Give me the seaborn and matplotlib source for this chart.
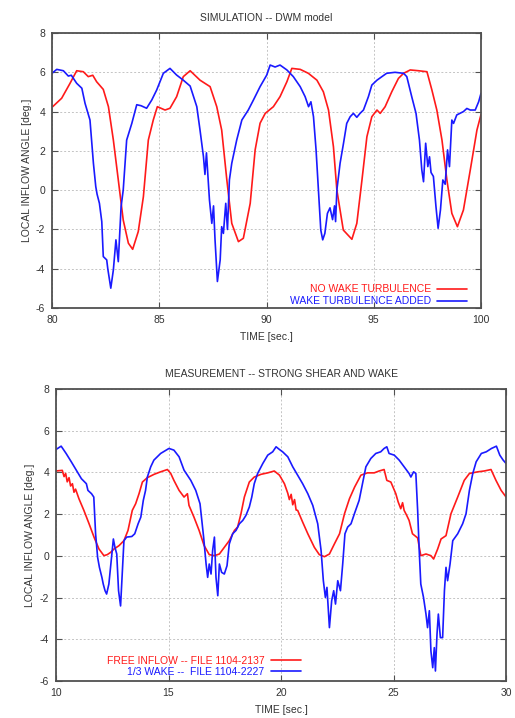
import numpy as np
import pandas as pd
import matplotlib
matplotlib.use("Agg")
import matplotlib.pyplot as plt
import seaborn as sns

# ---------------- Simulation (DWM model) ----------------
sim_t_free = [80.03, 80.45, 80.84, 81.15, 81.46, 81.69, 81.9, 82.08, 82.39, 82.63,
              82.86, 83.09, 83.32, 83.56, 83.76, 84.02, 84.26, 84.49, 84.72, 84.91,
              85.27, 85.5, 85.81, 86.12, 86.44, 86.9, 87.37, 87.68, 87.91, 88.15,
              88.38, 88.69, 88.92, 89.24, 89.47, 89.7, 89.94, 90.32, 90.63, 90.95,
              91.18, 91.57, 91.95, 92.35, 92.65, 92.89, 93.12, 93.28, 93.58, 93.98,
              94.21, 94.45, 94.68, 94.91, 95.15, 95.3, 95.53, 95.84, 96.15, 96.39,
              96.7, 97.09, 97.48, 97.71, 97.94, 98.18, 98.41, 98.64, 98.9, 99.18,
              99.5, 99.81, 100.0]
sim_y_free = [4.25, 4.68, 5.44, 6.08, 6.03, 5.78, 5.85, 5.52, 5.13, 4.25,
              2.55, 0.52, -1.52, -2.70, -3.01, -2.11, -0.33, 2.55, 3.57, 4.25,
              4.08, 4.17, 4.76, 5.78, 6.08, 5.6, 5.27, 4.25, 3.06, 0.52,
              -1.69, -2.62, -2.45, -0.67, 2.05, 3.41, 3.91, 4.25, 4.76, 5.52,
              6.2, 6.15, 5.95, 5.6, 5.01, 4.08, 2.21, 0.0, -2.03, -2.5,
              -1.69, 0.52, 2.72, 3.74, 4.08, 3.91, 4.25, 5.01, 5.69, 5.95,
              6.12, 6.08, 6.03, 5.1, 4.08, 2.55, 0.52, -1.18, -1.86, -1.01,
              1.03, 3.06, 3.85]

sim_t_wake = [80.0, 80.22, 80.53, 80.76, 80.9, 81.15, 81.39, 81.54, 81.77, 81.93,
              82.04, 82.1, 82.21, 82.32, 82.39, 82.55, 82.6, 82.74, 82.86, 82.98,
              83.09, 83.22, 83.32, 83.48, 83.72, 83.95, 84.15, 84.41, 84.65, 84.88,
              85.19, 85.5, 85.81, 86.12, 86.44, 86.75, 86.9, 87.06, 87.13, 87.2,
              87.34, 87.45, 87.53, 87.6, 87.71, 87.84, 87.91, 87.99, 88.1, 88.18,
              88.27, 88.38, 88.61, 88.85, 89.15, 89.39, 89.7, 90.01, 90.17, 90.4,
              90.63, 90.95, 91.25, 91.57, 91.8, 91.96, 92.07, 92.19, 92.31, 92.42,
              92.53, 92.62, 92.72, 92.84, 92.96, 93.08, 93.17, 93.22, 93.28, 93.43,
              93.59, 93.74, 93.9, 94.05, 94.21, 94.36, 94.52, 94.75, 94.91, 95.15,
              95.38, 95.6, 95.99, 96.39, 96.54, 96.77, 96.97, 97.13, 97.24, 97.32,
              97.42, 97.52, 97.6, 97.67, 97.78, 97.9, 98.0, 98.11, 98.22, 98.33,
              98.44, 98.53, 98.64, 98.72, 98.87, 99.18, 99.34, 99.5, 99.73, 99.89,
              100.0]
sim_y_wake = [5.95, 6.15, 6.08, 5.81, 5.85, 5.44, 5.19, 4.42, 3.57, 1.37,
              0.18, -0.2, -0.67, -1.6, -3.38, -3.55, -4.0, -4.99, -4.06, -2.53,
              -3.64, -0.84, 0.01, 2.55, 3.4, 4.35, 4.3, 4.17, 4.59, 5.1,
              5.95, 6.2, 5.86, 5.6, 5.3, 4.25, 3.06, 1.71, 0.8, 1.9,
              -0.5, -1.69, -0.8, -2.53, -4.65, -3.55, -1.86, -2.2, -0.67, -2.0,
              0.52, 1.37, 2.55, 3.57, 4.08, 4.59, 5.27, 5.86, 6.37, 6.27,
              6.37, 6.12, 5.78, 5.27, 4.76, 4.25, 4.5, 3.74, 2.05, 0.01,
              -2.03, -2.53, -2.2, -1.18, -0.9, -1.5, -0.8, -1.6, 0.01, 1.37,
              2.39, 3.4, 3.74, 3.91, 3.71, 3.91, 4.08, 4.76, 5.35, 5.6,
              5.78, 5.95, 6.0, 5.95, 5.78, 4.76, 3.91, 2.55, 1.03, 0.43,
              2.39, 1.2, 1.7, 0.9, 0.7, -0.84, -1.94, -1.0, 0.52, 0.3,
              2.05, 1.2, 3.57, 3.4, 3.83, 4.0, 4.16, 4.08, 4.08, 4.5,
              4.93]

# ---------------- Measurement (strong shear and wake) ----------------
meas_t_free = [10.0, 10.28, 10.36, 10.43, 10.5, 10.58, 10.65, 10.73, 10.8, 10.87,
               11.02, 11.24, 11.47, 11.69, 11.91, 12.13, 12.28, 12.43, 12.58, 12.8,
               13.02, 13.2, 13.39, 13.54, 13.69, 13.84, 14.06, 14.36, 14.65, 14.95,
               15.1, 15.24, 15.47, 15.69, 15.84, 15.91, 16.13, 16.36, 16.58, 16.81,
               17.04, 17.26, 17.48, 17.7, 17.93, 18.07, 18.22, 18.37, 18.59, 18.81,
               19.11, 19.41, 19.7, 19.93, 20.15, 20.3, 20.37, 20.45, 20.52, 20.6,
               20.67, 20.74, 20.96, 21.19, 21.48, 21.7, 21.93, 22.15, 22.37, 22.6,
               22.82, 23.04, 23.27, 23.55, 23.84, 24.14, 24.36, 24.58, 24.7, 24.88,
               25.1, 25.2, 25.32, 25.4, 25.47, 25.58, 25.69, 25.84, 26.07, 26.21,
               26.44, 26.66, 26.78, 26.96, 27.11, 27.33, 27.55, 27.85, 28.14, 28.37,
               28.74, 29.03, 29.33, 29.55, 29.78, 30.0]
meas_y_free = [4.07, 4.1, 3.8, 3.95, 3.55, 3.75, 3.35, 3.46, 3.05, 3.2,
               2.74, 2.18, 1.54, 0.9, 0.33, 0.01, 0.06, 0.17, 0.33, 0.49,
               0.73, 1.22, 2.18, 2.5, 2.98, 3.54, 3.75, 3.91, 4.03, 4.14,
               3.95, 3.62, 3.14, 2.82, 2.98, 2.42, 1.86, 1.22, 0.5, 0.06,
               0.01, 0.09, 0.41, 0.73, 1.22, 1.38, 2.02, 2.82, 3.54, 3.78,
               3.91, 3.98, 4.07, 3.87, 3.46, 3.0, 2.7, 2.95, 2.45, 2.7,
               2.2, 2.18, 1.62, 1.06, 0.41, 0.06, -0.04, 0.09, 0.57, 1.06,
               2.02, 2.74, 3.3, 3.87, 3.98, 3.98, 4.07, 4.14, 3.62, 3.54,
               2.98, 2.6, 2.26, 2.55, 2.18, 1.95, 1.7, 1.06, 0.86, 0.01,
               0.09, 0.01, -0.15, 0.33, 0.81, 0.97, 2.02, 2.82, 3.62, 3.95,
               4.03, 4.07, 4.14, 3.62, 3.14, 2.82]

meas_t_wake = [10.0, 10.23, 10.45, 10.68, 10.9, 11.13, 11.35, 11.42, 11.58, 11.68,
               11.76, 11.85, 11.93, 12.04, 12.1, 12.18, 12.25, 12.35, 12.44, 12.55,
               12.62, 12.7, 12.78, 12.87, 12.95, 13.02, 13.14, 13.37, 13.5, 13.65,
               13.77, 13.88, 13.98, 14.06, 14.21, 14.35, 14.65, 15.02, 15.24, 15.47,
               15.69, 15.99, 16.21, 16.4, 16.56, 16.67, 16.74, 16.81, 16.89, 16.96,
               17.04, 17.11, 17.19, 17.26, 17.36, 17.48, 17.6, 17.7, 17.85, 18.0,
               18.15, 18.3, 18.44, 18.59, 18.7, 18.81, 18.96, 19.19, 19.41, 19.63,
               19.78, 19.93, 20.07, 20.3, 20.52, 20.74, 20.96, 21.19, 21.41, 21.63,
               21.78, 21.88, 21.97, 22.04, 22.15, 22.25, 22.34, 22.42, 22.52, 22.64,
               22.74, 22.84, 22.96, 23.11, 23.26, 23.47, 23.62, 23.77, 23.99, 24.21,
               24.43, 24.58, 24.7, 24.8, 25.03, 25.25, 25.47, 25.69, 25.77, 25.89,
               25.99, 26.07, 26.14, 26.21, 26.33, 26.44, 26.51, 26.59, 26.66, 26.74,
               26.81, 26.86, 26.93, 26.99, 27.08, 27.18, 27.26, 27.33, 27.4, 27.51,
               27.63, 27.85, 28.07, 28.22, 28.37, 28.52, 28.67, 28.9, 29.12, 29.35,
               29.57, 29.72, 29.87, 30.0]
meas_y_wake = [5.1, 5.26, 4.91, 4.51, 4.11, 3.7, 3.46, 3.14, 2.98, 2.82,
               1.06, -0.07, -0.55, -1.03, -1.35, -1.67, -1.83, -1.35, -0.39, 0.81,
               0.41, 0.09, -1.67, -2.4, -0.71, 0.73, 0.9, 0.93, 1.06, 1.54,
               1.86, 2.66, 3.14, 3.78, 4.27, 4.59, 4.91, 5.15, 5.07, 4.75,
               4.11, 3.62, 3.14, 2.5, 0.9, -0.39, -1.03, -0.39, -0.87, 0.25,
               0.9, -1.03, -1.91, -0.39, -0.79, -0.87, -0.47, 0.57, 1.06, 1.22,
               1.54, 1.7, 1.94, 2.34, 2.82, 3.46, 3.95, 4.43, 4.83, 4.99,
               5.23, 5.1, 4.99, 4.75, 4.27, 3.87, 3.46, 2.98, 2.42, 1.54,
               0.25, -1.19, -1.99, -1.51, -3.44, -2.15, -1.67, -2.31, -1.19, -1.67,
               -0.39, 1.06, 1.38, 1.54, 2.02, 2.66, 3.46, 4.27, 4.67, 4.91,
               4.99, 5.15, 5.23, 4.91, 4.83, 4.59, 4.27, 3.95, 3.78, 4.03,
               3.95, 2.18, 0.25, -1.35, -1.99, -2.79, -3.44, -2.63, -4.56, -5.36,
               -4.4, -5.52, -3.76, -2.79, -3.92, -3.92, -1.67, -0.55, -1.19, -0.39,
               0.73, 1.06, 1.54, 2.02, 3.14, 3.95, 4.51, 4.91, 4.99, 5.15,
               5.26, 4.83, 4.59, 4.43]

sim_labels = ["NO WAKE TURBULENCE", "WAKE TURBULENCE ADDED"]
meas_labels = ["FREE INFLOW -- FILE 1104-2137", "1/3 WAKE --  FILE 1104-2227"]
sim_xticks = [80, 85, 90, 95, 100]
meas_xticks = [10, 15, 20, 25, 30]
yticks = [-6, -4, -2, 0, 2, 4, 6, 8]

sns.set_theme(style="white")
plt.rcParams["font.family"] = ["Liberation Sans", "DejaVu Sans"]
plt.rcParams["axes.unicode_minus"] = False

RED = "#ff1a1a"
BLUE = "#1a1aff"
FRAME = "#505050"
FS = 7.5

sim_df = pd.concat([
    pd.DataFrame({"t": sim_t_free, "angle": sim_y_free, "case": sim_labels[0]}),
    pd.DataFrame({"t": sim_t_wake, "angle": sim_y_wake, "case": sim_labels[1]}),
])
meas_df = pd.concat([
    pd.DataFrame({"t": meas_t_free, "angle": meas_y_free, "case": meas_labels[0]}),
    pd.DataFrame({"t": meas_t_wake, "angle": meas_y_wake, "case": meas_labels[1]}),
])

fig = plt.figure(figsize=(5.15, 7.18), dpi=100)
ax1 = fig.add_axes([0.101, 0.571, 0.833, 0.383])
ax2 = fig.add_axes([0.1087, 0.0515, 0.874, 0.4067])


def style_axes(ax, xticks, xlim, title):
    ax.set_xlim(*xlim)
    ax.set_ylim(-6, 8)
    ax.set_xticks(xticks)
    ax.set_yticks(yticks)
    ax.grid(True, color="#c4c4c4", linestyle=(0, (2, 2)), linewidth=0.7)
    ax.tick_params(direction="in", length=4, width=0.8, color=FRAME,
                   labelsize=FS, labelcolor="#333333", top=True, right=True,
                   bottom=True, left=True, pad=5)
    for s in ax.spines.values():
        s.set_color(FRAME)
        s.set_linewidth(1.3)
        s.set_visible(True)
    ax.set_title(title, fontsize=FS, color="#333333", pad=9)
    ax.set_xlabel("TIME [sec.]", fontsize=FS, color="#333333", labelpad=5)
    ax.set_ylabel("LOCAL INFLOW ANGLE [deg.]", fontsize=FS, color="#333333", labelpad=3)


sns.lineplot(data=sim_df, x="t", y="angle", hue="case", hue_order=sim_labels,
             palette=[RED, BLUE], sort=False, estimator=None, linewidth=1.2,
             ax=ax1)
style_axes(ax1, sim_xticks, (80, 100), "SIMULATION -- DWM model")
ax1.legend(loc="lower right", bbox_to_anchor=(0.985, -0.02), frameon=False,
           markerfirst=False, fontsize=FS, labelcolor="linecolor",
           handlelength=2.9, handletextpad=0.6, labelspacing=0.2,
           borderpad=0.2)

sns.lineplot(data=meas_df, x="t", y="angle", hue="case", hue_order=meas_labels,
             palette=[RED, BLUE], sort=False, estimator=None, linewidth=1.2,
             ax=ax2)
style_axes(ax2, meas_xticks, (10, 30), "MEASUREMENT -- STRONG SHEAR AND WAKE")
ax2.legend(loc="lower right", bbox_to_anchor=(0.56, -0.01), frameon=False,
           markerfirst=False, fontsize=FS, labelcolor="linecolor",
           handlelength=2.9, handletextpad=0.6, labelspacing=0.1,
           borderpad=0.2)

fig.savefig("out.png", dpi=100, facecolor="white")
